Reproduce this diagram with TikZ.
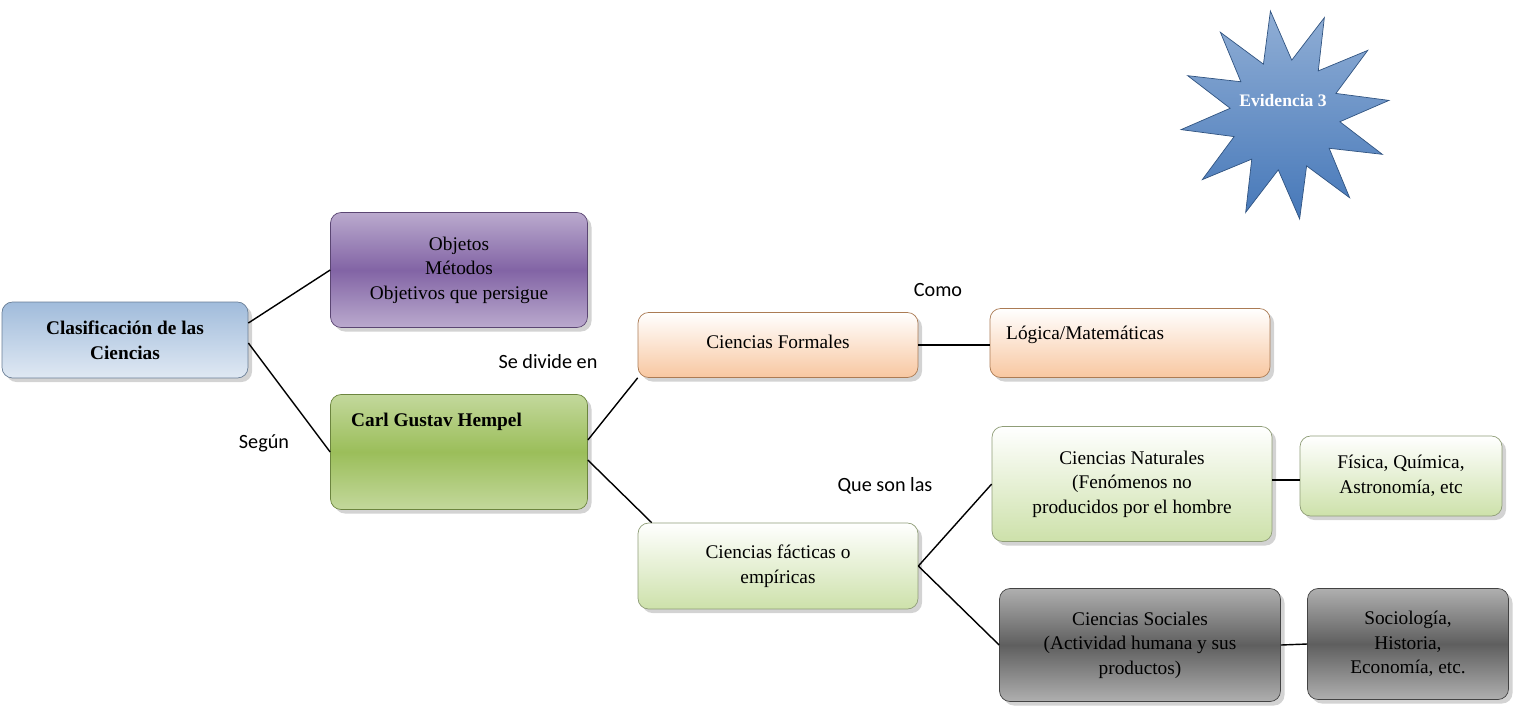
\documentclass[tikz,border=0pt]{standalone}
\usepackage{fontspec}
\setmainfont{Liberation Serif}
\newfontfamily\labelfont{Carlito}
\usetikzlibrary{positioning,calc,shapes.geometric,shadows}
\tikzset{
  box/.style     = {rounded corners=6pt, draw=#1!70!black, align=center,
                    font=\fontsize{11}{14}\selectfont, drop shadow={opacity=0.35}},
  link/.style    = {line width=0.8pt},
  linklabel/.style = {font=\labelfont\fontsize{11.5}{13}\selectfont, inner sep=0pt},
}
\definecolor{blueA}{RGB}{150,180,215}
\definecolor{purpA}{RGB}{130,100,165}
\definecolor{greenA}{RGB}{155,190,90}
\definecolor{orangeA}{RGB}{245,175,120}
\definecolor{lgreenA}{RGB}{205,225,170}
\definecolor{grayA}{RGB}{95,95,95}
\definecolor{starA}{RGB}{70,120,185}
\begin{document}
\begin{tikzpicture}[x=0.02cm,y=-0.02cm]
  \useasboundingbox (0,0) rectangle (1513,708);
  % root and first level
  \node[box=blueA, top color=blueA!90, bottom color=blueA!30, minimum width=4.92cm, minimum height=1.52cm, font=\bfseries\fontsize{11}{14}\selectfont]
    (clasif) at (125,340) {Clasificación de las\\Ciencias};
  \node[box=purpA, top color=purpA!55, bottom color=purpA!55, middle color=purpA, minimum width=5.14cm, minimum height=2.3cm]
    (objetos) at (459,270) {Objetos\\Métodos\\Objetivos que persigue};
  \node[box=greenA, top color=greenA!60, bottom color=greenA!60, middle color=greenA, minimum width=5.14cm, minimum height=2.3cm]
    (hempel) at (459,452) {};
  \node[font=\bfseries\fontsize{11}{14}\selectfont, anchor=west] (hempeltxt) at (345,422) {Carl Gustav Hempel};
  % second level
  \node[box=orangeA, top color=white, bottom color=orangeA!70, minimum width=5.6cm, minimum height=1.3cm]
    (formales) at (778,345) {\raisebox{4pt}{Ciencias Formales}};
  \node[box=orangeA, top color=white, bottom color=orangeA!70, minimum width=5.6cm, minimum height=1.38cm]
    (logica) at (1130,343) {};
  \node[font=\fontsize{11}{14}\selectfont, anchor=west] (logicatxt) at (1000,335) {Lógica/Matemáticas};
  \node[box=lgreenA, top color=white, bottom color=lgreenA, minimum width=5.6cm, minimum height=1.72cm]
    (facticas) at (778,566) {Ciencias fácticas o\\empíricas};
  % third level
  \node[box=lgreenA, top color=white, bottom color=lgreenA, minimum width=5.6cm, minimum height=2.3cm]
    (naturales) at (1132,484) {Ciencias Naturales\\(Fenómenos no\\producidos por el hombre};
  \node[box=lgreenA, top color=white, bottom color=lgreenA, minimum width=4.04cm, minimum height=1.6cm]
    (fisica) at (1401,476) {Física, Química,\\Astronomía, etc};
  \node[box=grayA, top color=grayA!50, bottom color=grayA!50, middle color=grayA, minimum width=5.62cm, minimum height=2.26cm]
    (sociales) at (1140,645) {Ciencias Sociales\\(Actividad humana y sus\\productos)};
  \node[box=grayA, top color=grayA!50, bottom color=grayA!50, middle color=grayA, minimum width=4.02cm, minimum height=2.22cm]
    (sociologia) at (1408,644) {Sociología,\\Historia,\\Economía, etc.};
  % star
  \node[star, star points=12, star point ratio=1.9, minimum size=4.2cm, shape border rotate=8, draw=starA!70!black, top color=starA!60, bottom color=starA, inner sep=0pt]
    (evidencia) at (1285,115) {};
  \node[font=\bfseries\fontsize{10}{12}\selectfont, text=white] (evidenciatxt) at (1283,100) {Evidencia 3};
  % connectors
  \draw[link] ($(clasif.east)+(0,-17)$) -- (objetos.west);
  \draw[link] ($(clasif.east)+(0,3)$) -- (hempel.west);
  \draw[link] ($(hempel.east)+(0,-12)$) -- (formales.south west);
  \draw[link] ($(hempel.east)+(0,8)$) -- ($(facticas.north west)+(14,0)$);
  \draw[link] (formales.east) -- (formales.east -| logica.west);
  \draw[link] (facticas.east) -- (naturales.west);
  \draw[link] (facticas.east) -- (sociales.west);
  \draw[link] (fisica.west |- 0,480) -- (naturales.east |- 0,480);
  \draw[link] (sociales.east) -- (sociologia.west);
  % link labels
  \node[linklabel] (como) at (938,290) {Como};
  \node[linklabel] (divide) at (548,362) {Se divide en};
  \node[linklabel] (segun) at (264,443) {Según};
  \node[linklabel] (queson) at (885,486) {Que son las};
\end{tikzpicture}
\end{document}
